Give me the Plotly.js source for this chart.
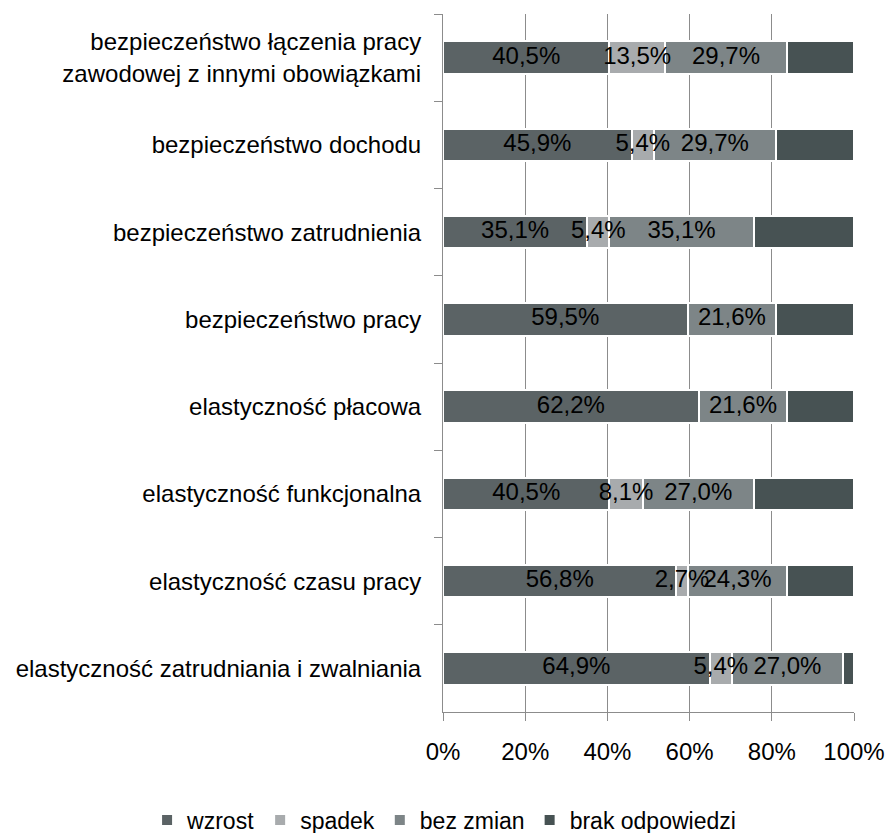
<!DOCTYPE html>
<html><head><meta charset="utf-8">
<script src="https://cdn.plot.ly/plotly-3.0.1.min.js"></script>
<style>html,body{margin:0;padding:0;background:#fff}#chart{width:886px;height:833px}</style>
</head><body><div id="chart"></div>
<script>
const categories = [
  "bezpieczeństwo łączenia pracy<br>zawodowej z innymi obowiązkami",
  "bezpieczeństwo dochodu",
  "bezpieczeństwo zatrudnienia",
  "bezpieczeństwo pracy",
  "elastyczność płacowa",
  "elastyczność funkcjonalna",
  "elastyczność czasu pracy",
  "elastyczność zatrudniania i zwalniania"
];
const wzrost   = [40.5, 45.9, 35.1, 59.5, 62.2, 40.5, 56.8, 64.9];
const spadek   = [13.5, 5.4, 5.4, 0, 0, 8.1, 2.7, 5.4];
const bezZmian = [29.7, 29.7, 35.1, 21.6, 21.6, 27.0, 24.3, 27.0];
const brak     = [16.2, 18.9, 24.3, 18.9, 16.2, 24.3, 16.2, 2.7];
const seriesNames = ["wzrost", "spadek", "bez zmian", "brak odpowiedzi"];
const xTickVals = [0, 20, 40, 60, 80, 100];
const xTickText = ["0%", "20%", "40%", "60%", "80%", "100%"];

const colors = ["#5b6365", "#a8abad", "#7d8587", "#475253"];
const FONT = "Liberation Sans, Arial, sans-serif";
const FS = 24;
const series = [wzrost, spadek, bezZmian, brak];

const traces = series.map((vals, i) => ({
  type: "bar", orientation: "h", name: seriesNames[i],
  x: vals, y: categories,
  marker: {color: colors[i], line: {color: "#ffffff", width: 2}},
  hoverinfo: "skip"
}));

const fmt = v => v.toFixed(1).replace(".", ",") + "%";
for (let s = 0; s < 3; s++) {
  const xs = [], ys = [], ts = [];
  categories.forEach((c, k) => {
    const v = series[s][k];
    if (v <= 0) return;
    let start = 0;
    for (let p = 0; p < s; p++) start += series[p][k];
    xs.push(start + v / 2); ys.push(c); ts.push(fmt(v));
  });
  traces.push({
    type: "scatter", mode: "text", x: xs, y: ys, text: ts,
    textposition: "middle center",
    textfont: {family: FONT, size: FS, color: "#000"},
    showlegend: false, hoverinfo: "skip", cliponaxis: false
  });
}

const layout = {
  width: 886, height: 833,
  margin: {l: 443, r: 32, t: 14, b: 121, autoexpand: false},
  barmode: "stack", bargap: 0.63,
  paper_bgcolor: "#fff", plot_bgcolor: "#fff",
  font: {family: FONT, size: FS, color: "#000"},
  showlegend: true,
  legend: {orientation: "h", x: -0.72, xanchor: "left", y: -0.1547, yanchor: "middle",
           font: {family: FONT, size: 23}, traceorder: "normal",
           itemwidth: 30, tracegroupgap: 0, bgcolor: "rgba(0,0,0,0)"},
  xaxis: {range: [0, 100], tickvals: xTickVals, ticktext: xTickText, automargin: false,
          showgrid: true, gridcolor: "#8c8c8c", gridwidth: 1,
          showline: true, linecolor: "#8c8c8c", linewidth: 1,
          ticks: "outside", ticklen: 8, tickcolor: "#8c8c8c",
          ticklabelstandoff: 10, zeroline: false, fixedrange: true},
  yaxis: {type: "category", autorange: "reversed", automargin: false,
          showline: true, linecolor: "#8c8c8c", linewidth: 1,
          ticks: "outside", ticklen: 8, tickcolor: "#8c8c8c",
          tickson: "boundaries", ticklabelstandoff: 16,
          showgrid: false, fixedrange: true}
};

Plotly.newPlot("chart", traces, layout, {displayModeBar: false, staticPlot: true});
</script></body></html>
